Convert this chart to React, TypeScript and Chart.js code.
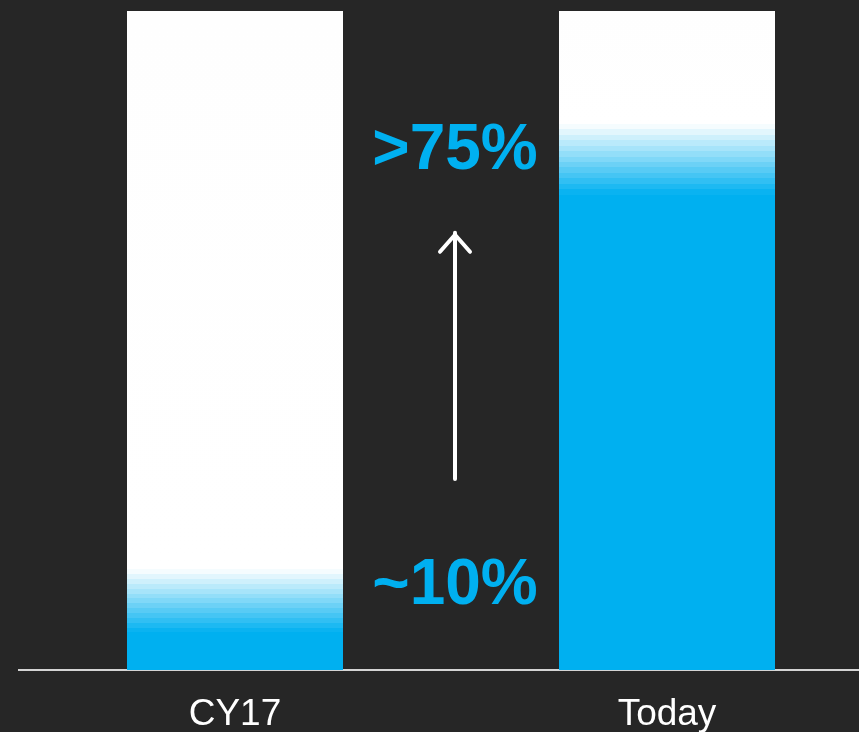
import React, { useEffect, useRef } from "react";
import { Chart, registerables } from "chart.js";

Chart.register(...registerables);

// ---- data ----
const categories = ["CY17", "Today"];
const totals = [100, 100]; // each bar is 100 %
const blueShare = [10.5, 77.5]; // % of bar filled in blue (centre of the fade)
const fadeHalfWidth = [4.8, 5.4]; // half height of the blue-to-white fade, in %
const callouts = ["~10%", ">75%"];
const calloutValues = [10, 76]; // baseline of each callout, on the % scale
const arrowFrom = 29; // arrow tail, on the % scale
const arrowTo = 66.5; // arrow head, on the % scale

const BLUE = [0, 176, 240];
const BG = "#262626";

function mix(t: number) {
  const r = Math.round(BLUE[0] + (255 - BLUE[0]) * t);
  const g = Math.round(BLUE[1] + (255 - BLUE[1]) * t);
  const b = Math.round(BLUE[2] + (255 - BLUE[2]) * t);
  return `rgb(${r},${g},${b})`;
}

function barFill(ctx: any) {
  const chart = ctx.chart;
  const { chartArea, scales } = chart;
  if (!chartArea) return "rgb(0,176,240)";
  const i = ctx.dataIndex;
  const y = scales.y;
  const base = y.getPixelForValue(0);
  const top = y.getPixelForValue(100);
  const g = chart.ctx.createLinearGradient(0, base, 0, top);
  const lo = (blueShare[i] - fadeHalfWidth[i]) / 100;
  const hi = (blueShare[i] + fadeHalfWidth[i]) / 100;
  const N = 13;
  g.addColorStop(0, mix(0));
  let prev = mix(0);
  for (let k = 0; k <= N; k++) {
    const pos = lo + ((hi - lo) * k) / N;
    const c = k === N ? "#ffffff" : mix((k + 0.5) / N);
    g.addColorStop(pos, prev);
    g.addColorStop(pos, c);
    prev = c;
  }
  g.addColorStop(1, "#fefefe");
  return g;
}

const calloutPlugin = {
  id: "callouts",
  afterDatasetsDraw(chart: any) {
    const { ctx, scales } = chart;
    const x = scales.x;
    const y = scales.y;
    const cx = (x.getPixelForValue(0) + x.getPixelForValue(1)) / 2 + 4;
    ctx.save();
    ctx.fillStyle = "rgb(0,176,240)";
    ctx.font = "bold 64px Arial, 'Liberation Sans', sans-serif";
    ctx.textAlign = "center";
    ctx.textBaseline = "alphabetic";
    callouts.forEach((t, i) => {
      ctx.fillText(t, cx, y.getPixelForValue(calloutValues[i]));
    });
    // arrow
    const yTail = y.getPixelForValue(arrowFrom);
    const yHead = y.getPixelForValue(arrowTo);
    ctx.strokeStyle = "#ffffff";
    ctx.lineWidth = 4;
    ctx.lineCap = "round";
    ctx.lineJoin = "round";
    ctx.beginPath();
    ctx.moveTo(cx, yTail);
    ctx.lineTo(cx, yHead + 1);
    ctx.stroke();
    ctx.beginPath();
    ctx.moveTo(cx - 15, yHead + 20);
    ctx.lineTo(cx, yHead + 3);
    ctx.lineTo(cx + 15, yHead + 20);
    ctx.stroke();
    ctx.restore();
  },
};

export default function App() {
  const ref = useRef<HTMLCanvasElement>(null);
  useEffect(() => {
    if (!ref.current) return;
    const chart = new Chart(ref.current, {
      type: "bar",
      data: {
        labels: categories,
        datasets: [
          {
            label: "Share",
            data: blueShare,
            backgroundColor: barFill,
            borderWidth: 0,
          },
          {
            label: "Total",
            data: totals,
            backgroundColor: barFill,
            borderWidth: 0,
          },
        ],
      },
      options: {
        responsive: false,
        animation: false,
        devicePixelRatio: 1,
        layout: { padding: { left: 19, right: 1, top: 11, bottom: 0 } },
        datasets: { bar: { barPercentage: 1, categoryPercentage: 0.5, grouped: false } },
        plugins: { legend: { display: false }, tooltip: { enabled: false } },
        scales: {
          x: {
            grid: { display: false, drawTicks: false },
            border: { display: true, color: "#d4d4d4", width: 2 },
            ticks: {
              color: "#ffffff",
              padding: 23,
              font: { family: "Arial, 'Liberation Sans', sans-serif", size: 37 },
            },
            afterFit: (scale: any) => {
              scale.height = 62;
            },
          },
          y: { display: false, min: 0, max: 100 },
        },
      },
      plugins: [calloutPlugin],
    });
    return () => chart.destroy();
  }, []);
  return (
    <div
      style={{
        position: "fixed",
        left: 0,
        top: 0,
        width: 859,
        height: 732,
        overflow: "hidden",
        background: BG,
      }}
    >
      <canvas ref={ref} width={884} height={732} style={{ display: "block" }} />
    </div>
  );
}
